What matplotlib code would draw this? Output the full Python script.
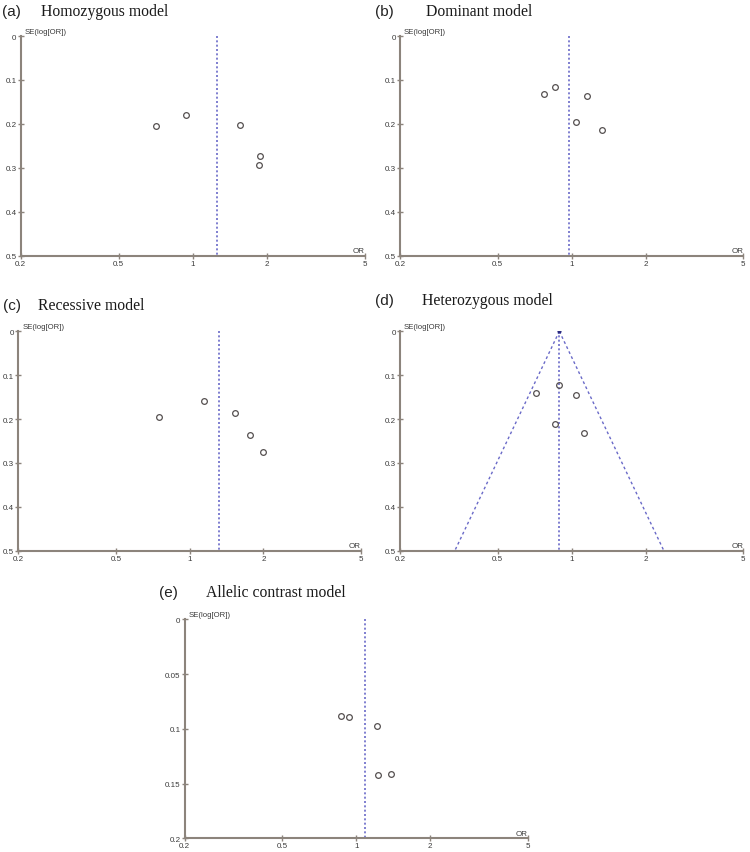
import numpy as np
import matplotlib
matplotlib.use("Agg")
import matplotlib.pyplot as plt

# ---------------- data ----------------
panel_labels = ["(a)", "(b)", "(c)", "(d)", "(e)"]
panel_titles = ["Homozygous model", "Dominant model", "Recessive model",
                "Heterozygous model", "Allelic contrast model"]

or_a = [0.708, 0.936, 1.56, 1.88, 1.85]
se_a = [0.2045, 0.180, 0.2016, 0.2727, 0.2925]
pooled_a = 1.25

or_b = [0.769, 0.855, 1.159, 1.04, 1.325]
se_b = [0.132, 0.116, 0.1366, 0.195, 0.2147]
pooled_b = 0.977

or_c = [0.751, 1.145, 1.53, 1.76, 1.99]
se_c = [0.195, 0.1596, 0.187, 0.237, 0.274]
pooled_c = 1.32

or_d = [0.716, 0.888, 1.04, 0.857, 1.125]
se_d = [0.1406, 0.122, 0.145, 0.211, 0.232]
pooled_d = 0.891

or_e = [0.863, 0.931, 1.216, 1.228, 1.38]
se_e = [0.0886, 0.0892, 0.0974, 0.142, 0.1416]
pooled_e = 1.084

x_ticks = [0.2, 0.5, 1, 2, 5]
x_ticklabels = ["0.2", "0.5", "1", "2", "5"]
y_ticks_main = [0, 0.1, 0.2, 0.3, 0.4, 0.5]
y_ticklabels_main = ["0", "0.1", "0.2", "0.3", "0.4", "0.5"]
y_ticks_e = [0, 0.05, 0.1, 0.15, 0.2]
y_ticklabels_e = ["0", "0.05", "0.1", "0.15", "0.2"]

# ---------------- style ----------------
W, H = 750, 853
AXIS_COL = "#8c847c"
LINE_COL = "#6a6ac8"
MARK_COL = "#555050"
TEXT_COL = "#3a3a3a"

fig = plt.figure(figsize=(W / 100, H / 100), dpi=100)
fig.patch.set_facecolor("white")


def px_axes(x0, y0, x1, y1):
    return fig.add_axes([x0 / W, 1 - y1 / H, (x1 - x0) / W, (y1 - y0) / H])


def funnel(ax, ors, ses, pooled, yticks, yticklabels, show_funnel=False):
    ymax = yticks[-1]
    ax.set_xscale("log")
    ax.set_xlim(0.2, 5)
    ax.set_ylim(ymax, 0)
    ax.plot(ors, ses, linestyle="none", marker="o", ms=4.1, mfc="none",
            mec=MARK_COL, mew=0.9, zorder=3)
    ax.plot([pooled, pooled], [0, ymax], linestyle=(0, (1.2, 1.4)),
            color=LINE_COL, lw=1.2, zorder=2)
    if show_funnel:
        se_line = np.array([0, ymax])
        lo = np.exp(np.log(pooled) - 1.96 * se_line)
        hi = np.exp(np.log(pooled) + 1.96 * se_line)
        ax.plot(lo, se_line, linestyle=(0, (2.0, 2.0)), color=LINE_COL, lw=1.0)
        ax.plot(hi, se_line, linestyle=(0, (2.0, 2.0)), color=LINE_COL, lw=1.0)
        ax.plot([pooled], [0], marker="o", ms=2, color="#2a2a80", zorder=4)
    ax.set_xticks(x_ticks)
    ax.set_xticklabels(x_ticklabels)
    ax.xaxis.set_minor_locator(matplotlib.ticker.NullLocator())
    ax.set_yticks(yticks)
    ax.set_yticklabels(yticklabels)
    for s in ["top", "right"]:
        ax.spines[s].set_visible(False)
    for s in ["left", "bottom"]:
        ax.spines[s].set_color(AXIS_COL)
        ax.spines[s].set_linewidth(1.5)
    ax.tick_params(axis="both", which="major", direction="inout", length=4,
                   width=1.0, color=AXIS_COL, labelsize=5.8,
                   labelcolor=TEXT_COL, pad=1)
    for lab in ax.get_xticklabels() + ax.get_yticklabels():
        lab.set_fontfamily("Liberation Sans")
    ax.text(0.012, 1.005, "SE(log[OR])", transform=ax.transAxes, ha="left",
            va="bottom", fontsize=5.6, color=TEXT_COL, family="Liberation Sans")
    ax.text(1.0, 0.008, "OR", transform=ax.transAxes, ha="right",
            va="bottom", fontsize=5.8, color=TEXT_COL, family="Liberation Sans")
    ax.set_facecolor("none")


def titles(xl, yl, label, xt, title):
    fig.text(xl / W, 1 - yl / H, label, ha="left", va="center", fontsize=11,
             family="Liberation Sans", color="#222222")
    fig.text(xt / W, 1 - yl / H, title, ha="left", va="center", fontsize=11.3,
             family="Liberation Serif", color="#1a1a1a")


ax_a = px_axes(20.7, 37, 365, 256.7)
funnel(ax_a, or_a, se_a, pooled_a, y_ticks_main, y_ticklabels_main)
titles(2, 12, panel_labels[0], 41, panel_titles[0])

ax_b = px_axes(400, 37, 743.3, 256.7)
funnel(ax_b, or_b, se_b, pooled_b, y_ticks_main, y_ticklabels_main)
titles(375, 12, panel_labels[1], 426, panel_titles[1])

ax_c = px_axes(18.3, 332.3, 361, 551.7)
funnel(ax_c, or_c, se_c, pooled_c, y_ticks_main, y_ticklabels_main)
titles(3, 306, panel_labels[2], 38, panel_titles[2])

ax_d = px_axes(400, 332.3, 743.3, 551.7)
funnel(ax_d, or_d, se_d, pooled_d, y_ticks_main, y_ticklabels_main,
       show_funnel=True)
titles(375, 301, panel_labels[3], 422, panel_titles[3])

ax_e = px_axes(184.7, 620.3, 528, 839.3)
funnel(ax_e, or_e, se_e, pooled_e, y_ticks_e, y_ticklabels_e)
titles(159, 593, panel_labels[4], 206, panel_titles[4])

fig.savefig("out.png", dpi=100, facecolor="white")
